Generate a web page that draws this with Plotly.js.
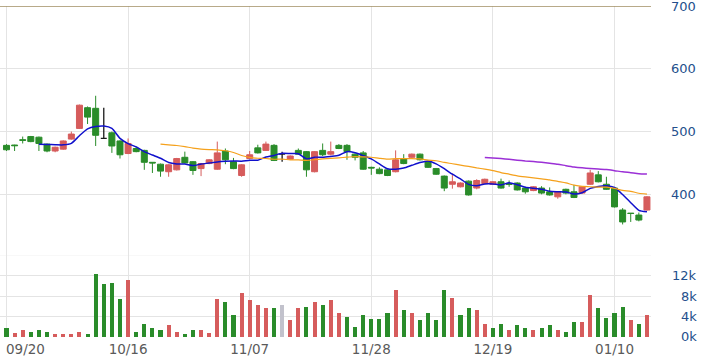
<!DOCTYPE html>
<html>
<head>
<meta charset="utf-8">
<script src="https://cdn.plot.ly/plotly-3.0.1.min.js"></script>
<style>
  html, body { margin: 0; padding: 0; background: #fff; }
  #chart { width: 710px; height: 359px; }
</style>
</head>
<body>
<div id="chart"></div>
<script>
// ---- data ----
const dayIndex = Array.from({length: 80}, (_, i) => i);

const openPrices = [
  478, 478.5, 487, 492, 491, 480, 469, 472, 488, 505,
  538, 537, 489, 498, 485, 465, 473, 470, 451, 448,
  436, 439, 459, 452, 441, 449, 440, 469, 452, 430,
  457, 474, 470, 478, 464, 456, 470, 468, 436, 470,
  464, 478, 478, 464, 466, 443, 440, 439, 436, 457,
  459, 464, 452, 441, 429, 416, 412, 421, 410, 417,
  416, 420, 417, 418, 410, 406, 410, 404, 396, 408,
  404, 402, 416, 431, 416, 410, 375, 370, 367, 375
];
const highPrices = [
  480, 479, 492, 493, 492, 481, 476, 486, 500, 543,
  540, 557, 538, 500, 486, 489, 476, 471, 451, 449,
  448, 458, 468, 453, 450, 456, 484, 473, 458, 448,
  469, 479, 484, 480, 468, 462, 473, 469, 469, 481,
  484, 480, 480, 465, 469, 444, 443, 440, 470, 464,
  465, 465, 454, 442, 430, 433, 419, 422, 424, 425,
  421, 425, 422, 419, 412, 413, 413, 411, 405, 409,
  415, 413, 439, 437, 428, 411, 378, 370, 371, 397
];
const lowPrices = [
  469, 469, 481, 483, 469, 467, 467, 471, 487, 504,
  512, 477, 488, 466, 457, 464, 467, 439, 434, 428,
  428, 438, 449, 431, 429, 448, 439, 448, 440, 428,
  456, 465, 469, 453, 452, 455, 463, 428, 435, 461,
  462, 472, 455, 454, 439, 431, 432, 429, 435, 448,
  458, 454, 442, 431, 405, 409, 411, 398, 408, 416,
  415, 409, 412, 406, 401, 405, 400, 398, 393, 400,
  394, 401, 415, 419, 407, 379, 352, 356, 357, 374
];
const closePrices = [
  471, 477.5, 486, 484, 481, 469, 475, 485, 496, 542,
  523, 494, 489, 477, 463, 481, 468, 451, 450, 437,
  447, 457, 450, 438, 449, 455, 466, 455, 441, 447,
  463, 466, 480, 454, 464, 461, 464, 439, 468, 463,
  468, 473, 468, 459, 440, 442, 433, 430, 455, 449,
  464, 455, 443, 432, 410, 420, 418, 399, 422, 424,
  420, 410, 416, 407, 404, 412, 402, 399, 404, 402,
  395, 412, 434, 420, 408, 380, 356, 369.5, 359, 396
];
// doji days (open equals close), drawn in dark ink
const dojiDays = [12, 34];

const volumes = [
  1700, 800, 1300, 1000, 1300, 1000, 600, 600, 600, 1000,
  600, 12400, 10400, 10600, 7400, 11200, 1000, 2500, 1800, 1300,
  2300, 1000, 600, 1300, 1300, 800, 7400, 6900, 4300, 8700,
  7300, 6200, 5700, 5700, 6200, 3300, 5700, 5900, 6900, 6200,
  7200, 4700, 4000, 2000, 4300, 3500, 3500, 4700, 9200, 5200,
  4700, 3300, 4700, 3300, 9200, 7600, 4300, 5700, 5200, 2500,
  1800, 2500, 1300, 2300, 1800, 1300, 1800, 2300, 1300, 1000,
  3000, 3000, 8200, 5700, 3700, 4700, 5900, 3300, 2500, 4300
];
// +1 close above previous close, -1 below, 0 unchanged
const volumeChange = [
  -1, 1, 1, -1, -1, -1, 1, 1, 1, 1,
  -1, -1, -1, -1, -1, 1, -1, -1, -1, -1,
  1, 1, -1, -1, 1, 1, 1, -1, -1, 1,
  1, 1, 1, -1, 0, 1, 1, -1, 1, -1,
  1, 1, -1, -1, -1, -1, -1, -1, 1, -1,
  1, -1, -1, -1, -1, 1, -1, -1, 1, 1,
  -1, -1, 1, -1, -1, 1, -1, -1, 1, -1,
  -1, 1, 1, -1, -1, -1, -1, 1, -1, 1
];

const dateTickIndex = [0, 15, 30, 45, 60, 75];
const dateTickLabels = ['09/20', '10/16', '11/07', '11/28', '12/19', '01/10'];

const priceTicks = [300, 400, 500, 600, 700];
const volumeTicks = [0, 4000, 8000, 12000, 16000];
const volumeTickLabels = ['0k', '4k', '8k', '12k', ''];

const maPeriods = [5, 20, 60];

// ---- styles ----
const UP = '#d65c5c', DOWN = '#2a8c2a', FLAT = '#c2c2cc', INK = '#1a1a1a';
const GRID = '#e4e4e4';
const LABEL_BLUE = '#244f8c';
const maColors = ['#1010cc', '#f5a11c', '#9b30d6'];

function movingAverage(values, n) {
  return values.map((_, i) => {
    if (i < n - 1) return null;
    let s = 0;
    for (let k = i - n + 1; k <= i; k++) s += values[k];
    return s / n;
  });
}

const normalDays = dayIndex.filter(i => !dojiDays.includes(i));
const pick = (arr, idx) => idx.map(i => arr[i]);

const traces = [];

traces.push({
  type: 'bar', x: dayIndex, y: volumes, xaxis: 'x', yaxis: 'y2',
  width: 0.5,
  marker: { color: volumeChange.map(c => c > 0 ? UP : (c < 0 ? DOWN : FLAT)), line: { width: 0 } },
  hoverinfo: 'skip'
});

traces.push({
  type: 'candlestick', xaxis: 'x', yaxis: 'y',
  x: normalDays,
  open: pick(openPrices, normalDays), high: pick(highPrices, normalDays),
  low: pick(lowPrices, normalDays), close: pick(closePrices, normalDays),
  increasing: { line: { color: UP, width: 1 }, fillcolor: UP },
  decreasing: { line: { color: DOWN, width: 1 }, fillcolor: DOWN },
  whiskerwidth: 0, hoverinfo: 'skip'
});

traces.push({
  type: 'candlestick', xaxis: 'x', yaxis: 'y',
  x: dojiDays,
  open: pick(openPrices, dojiDays), high: pick(highPrices, dojiDays),
  low: pick(lowPrices, dojiDays), close: pick(closePrices, dojiDays),
  increasing: { line: { color: INK, width: 1.3 }, fillcolor: INK },
  decreasing: { line: { color: INK, width: 1.3 }, fillcolor: INK },
  whiskerwidth: 0, hoverinfo: 'skip'
});

maPeriods.forEach((n, k) => {
  traces.push({
    type: 'scatter', mode: 'lines', xaxis: 'x', yaxis: 'y',
    x: dayIndex, y: movingAverage(closePrices, n),
    line: { color: maColors[k], width: k === 1 ? 1.2 : 1.5, shape: 'spline', smoothing: 0.6 },
    connectgaps: false, hoverinfo: 'skip'
  });
});

const tickFontX = { family: 'DejaVu Sans', size: 13.5, color: '#5a5a5a' };
const tickFontY = { family: 'DejaVu Sans', size: 13, color: LABEL_BLUE };

const annotations = [];
annotations.push({
  xref: 'x', yref: 'paper', x: dateTickIndex[0], y: 0,
  xanchor: 'left', yanchor: 'top', xshift: -2, yshift: -2,
  text: dateTickLabels[0], showarrow: false, font: tickFontX
});
volumeTicks.forEach((v, i) => {
  if (!volumeTickLabels[i]) return;
  annotations.push({
    xref: 'paper', yref: 'y2', x: 1, y: v, xanchor: 'right', yanchor: 'middle',
    xshift: 48, text: volumeTickLabels[i], showarrow: false, font: tickFontY
  });
});

const layout = {
  width: 710, height: 359,
  margin: { l: 0, r: 59, t: 6, b: 22, pad: 0 },
  paper_bgcolor: '#ffffff', plot_bgcolor: '#ffffff',
  showlegend: false, boxgap: 0.1, boxgroupgap: 0.18, bargap: 0,
  xaxis: {
    range: [-0.8, 79.5], anchor: 'y2',
    tickvals: dateTickIndex,
    ticktext: dateTickLabels.map((t, i) => i === 0 ? '' : t),
    showgrid: true, gridcolor: GRID, gridwidth: 1,
    zeroline: false, showline: false, ticks: '',
    tickfont: tickFontX, ticklabelstandoff: 2,
    rangeslider: { visible: false }, fixedrange: true
  },
  yaxis: {
    domain: [0.2414, 1], range: [300, 700], side: 'right', anchor: 'x',
    tickvals: priceTicks, ticktext: priceTicks.map(v => v === 300 ? '' : String(v)),
    showgrid: true, gridcolor: GRID, gridwidth: 1,
    zeroline: false, showline: false, ticks: '',
    tickfont: tickFontY, ticklabelstandoff: 19, ticklabeloverflow: 'allow',
    fixedrange: true
  },
  yaxis2: {
    domain: [0, 0.2465], range: [0, 16000], side: 'right', anchor: 'x',
    tickvals: volumeTicks, showticklabels: false,
    showgrid: true, gridcolor: GRID, gridwidth: 1,
    zeroline: false, showline: false, ticks: '', fixedrange: true
  },
  shapes: [
    { type: 'line', xref: 'paper', yref: 'y', x0: 0, x1: 1, y0: 700, y1: 700,
      line: { color: '#a08e62', width: 1.5 } },
    { type: 'line', xref: 'paper', yref: 'y', x0: 0, x1: 1, y0: 300, y1: 300,
      line: { color: '#dedede', width: 1.5 }, layer: 'below' },
    { type: 'line', xref: 'paper', yref: 'y2', x0: 0, x1: 1, y0: 16000, y1: 16000,
      line: { color: '#dedede', width: 1.5 }, layer: 'below' }
  ],
  annotations: annotations
};

Plotly.newPlot('chart', traces, layout, { displayModeBar: false, staticPlot: true });
</script>
</body>
</html>
